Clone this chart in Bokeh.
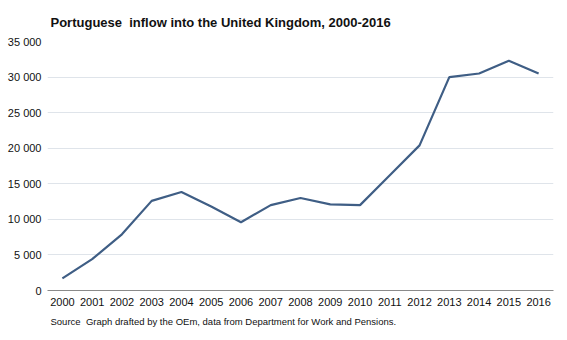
from bokeh.plotting import figure
from bokeh.models import FactorRange, Range1d, FixedTicker, Title
from bokeh.embed import file_html
from bokeh.resources import INLINE

years = [str(y) for y in range(2000, 2017)]
inflow = [1700, 4400, 7900, 12600, 13850, 11800, 9600, 12000, 13000, 12100,
          12000, 16200, 20400, 30000, 30500, 32300, 30500]
y_ticks = [0, 5000, 10000, 15000, 20000, 25000, 30000, 35000]
y_tick_labels = ["0", "5 000", "10 000", "15 000", "20 000", "25 000", "30 000", "35 000"]
title_text = "Portuguese\u00a0 inflow into the United Kingdom, 2000-2016"
source_bold = "Source"
source_text = "Graph drafted by the OEm, data from Department for Work and Pensions."

FONT = "Liberation Sans"

p = figure(width=567, height=340, output_backend="svg", toolbar_location=None,
           x_range=FactorRange(*years, range_padding=0), y_range=Range1d(0, 35000),
           min_border_left=47, min_border_right=14, min_border_top=10, min_border_bottom=50)
p.x_range.factor_padding = 0
p.outline_line_color = None
p.background_fill_color = "white"

p.title.text = title_text
p.title.text_font = FONT
p.title.text_font_style = "bold"
p.title.text_font_size = "13px"
p.title.text_color = "#111111"
p.title.align = "left"
p.title.offset = 3
p.title.standoff = 24

p.line(years, inflow, line_color="#3f5e85", line_width=2.2)

p.xgrid.grid_line_color = None
p.ygrid.grid_line_color = "#dfe4ea"
p.ygrid.grid_line_width = 1

p.yaxis.ticker = FixedTicker(ticks=y_ticks)
p.yaxis.major_label_overrides = {t: l for t, l in zip(y_ticks, y_tick_labels)}
p.yaxis.axis_line_color = None
p.yaxis.major_tick_line_color = None
p.yaxis.minor_tick_line_color = None
p.yaxis.major_tick_out = 0
p.yaxis.major_label_standoff = 6
p.yaxis.major_label_text_font = FONT
p.yaxis.major_label_text_font_size = "11px"
p.yaxis.major_label_text_color = "#111111"

p.xaxis.axis_line_color = "#8a8a8a"
p.xaxis.axis_line_width = 1
p.xaxis.major_tick_line_color = None
p.xaxis.minor_tick_line_color = None
p.xaxis.major_tick_out = 0
p.xaxis.major_label_standoff = 7
p.xaxis.major_label_text_font = FONT
p.xaxis.major_label_text_font_size = "11px"
p.xaxis.major_label_text_color = "#111111"

p.add_layout(Title(text=source_bold + "\u00a0 " + source_text, text_font=FONT,
                   text_font_style="normal", text_font_size="9.5px",
                   text_color="#111111", align="left", offset=3, standoff=10), "below")

open("out.html", "w").write(file_html(p, INLINE))
